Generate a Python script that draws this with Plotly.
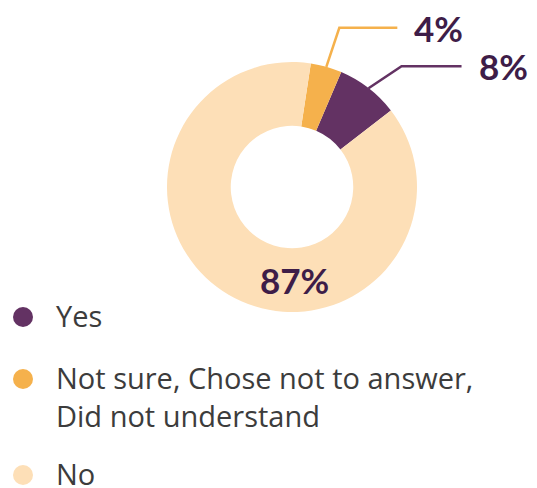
import math
import plotly.graph_objects as go

labels = ["Yes", "Not sure, Chose not to answer,<br>Did not understand", "No"]
values = [8, 4, 87]
pct_text = ["8%", "4%", "87%"]
colors = ["#633263", "#F5B14C", "#FDDFB7"]

W, H = 537, 488
CX, CY, R = 292, 187, 125   # pie center / radius in px
START = 52.3                # angle (clockwise from 12 o'clock) where "Yes" begins

total = sum(values)
spans = [v / total * 360 for v in values]
# plotly (counterclockwise) places the END of the first slice at `rotation`
ROT = START - spans[0]

def px(x):
    return x / W

def py(y):
    return 1 - y / H

fig = go.Figure(go.Pie(
    labels=labels, values=values, sort=False, direction="counterclockwise",
    rotation=ROT, hole=0.49, textinfo="none", hoverinfo="label+percent",
    marker=dict(colors=colors, line=dict(width=0)),
    domain=dict(x=[px(CX - R), px(CX + R)], y=[py(CY + R), py(CY - R)]),
    showlegend=False,
))

# slice mid angles (clockwise from top), computed from data
mids = []
a0 = START
for s in spans:
    mids.append(a0 - s / 2)
    a0 -= s

elbow_off = {0: (33, -22), 1: (13, -39)}
hlen = {0: 60, 1: 58}

shapes = []
annotations = []
label_font = dict(family="Lato", size=35, color="#3E1D48")
for i in (0, 1):
    a = math.radians(mids[i])
    x0, y0 = CX + R * math.sin(a), CY - R * math.cos(a)
    x1, y1 = x0 + elbow_off[i][0], y0 + elbow_off[i][1]
    x2 = x1 + hlen[i]
    shapes.append(dict(type="path", xref="paper", yref="paper",
                       path=f"M {px(x0)} {py(y0)} L {px(x1)} {py(y1)} L {px(x2)} {py(y1)}",
                       line=dict(color=colors[i], width=2.5)))
    annotations.append(dict(text=f"<b>{pct_text[i]}</b>", xref="paper", yref="paper",
                            x=px(x2 + 15), y=py(y1), xanchor="left", yanchor="middle",
                            showarrow=False, font=label_font))
# inside label for No
annotations.append(dict(text=f"<b>{pct_text[2]}</b>", xref="paper", yref="paper",
                        x=px(CX + 2), y=py(CY + 93), xanchor="center", yanchor="middle",
                        showarrow=False, font=label_font))

# manual legend
leg_y = [317, 379, 475]
for lab, col, y in zip(labels, colors, leg_y):
    shapes.append(dict(type="circle", xref="paper", yref="paper",
                       x0=px(13), x1=px(33), y0=py(y + 10), y1=py(y - 10),
                       fillcolor=col, line=dict(width=0)))
    annotations.append(dict(text=lab, xref="paper", yref="paper",
                            x=px(54), y=py(y - 23), xanchor="left", yanchor="top",
                            align="left", showarrow=False,
                            font=dict(family="Open Sans", size=29, color="#3C3C3C")))

fig.update_layout(width=W, height=H, margin=dict(l=0, r=0, t=0, b=0),
                  paper_bgcolor="white", plot_bgcolor="white",
                  shapes=shapes, annotations=annotations)
fig.write_html("out.html")
